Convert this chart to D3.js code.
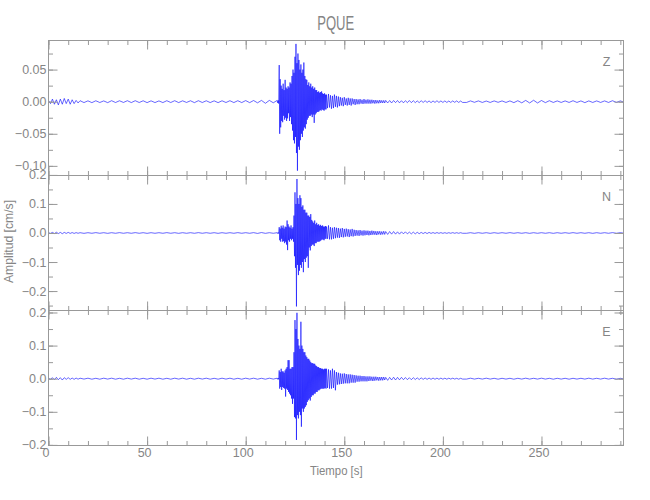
<!DOCTYPE html>
<html><head><meta charset="utf-8">
<script src="https://cdn.jsdelivr.net/npm/d3@7"></script>
<style>body{margin:0;background:#fff}svg{display:block}</style>
</head><body><svg id="c" width="650" height="500"></svg>
<script>
// ---- time layout of the sample blocks (seconds) ----
const blockStart = [0, 16, 116, 141, 171, 212];
const blockStep  = [1, 2, 0.25, 0.5, 1, 2];

// ---- Z component (cm/s) ----
const zEarly = [0.002,-0.003,0.004,-0.004,0.003,-0.005,0.004,-0.004,0.005,-0.003,0.004,-0.004,0.003,-0.003,0.002,-0.002];
const zQuiet = [0.0015,-0.0014,0.0013,-0.0015,0.0014,-0.0013,0.0012,-0.0015,0.0015,-0.0013,
  0.0014,-0.0012,0.0015,-0.0014,0.0015,-0.0013,0.0014,-0.0015,0.0013,-0.0014,
  0.0012,-0.0014,0.0015,-0.0013,0.0015,-0.0014,0.0013,-0.0012,0.0014,-0.0015,
  0.0015,-0.0013,0.0014,-0.0014,0.0013,-0.0015,0.0014,-0.0013,0.0015,-0.0014,
  0.0015,-0.0014,0.0017,-0.0015,0.0018,-0.0018,0.002,-0.0025,0.002,-0.0017];
const zEvent = [0.002,-0.002,0.002,-0.003, 0.057,-0.050,0.035,-0.040, 0.025,-0.030,0.020,-0.032,
  0.028,-0.022,0.018,-0.028, 0.034,-0.025,0.022,-0.030, 0.020,-0.026,0.024,-0.018,
  0.022,-0.030,0.030,-0.024, 0.028,-0.035,0.040,-0.045, 0.050,-0.060,0.045,-0.065,
  0.070,-0.055,0.090,-0.080, 0.060,-0.1075,0.075,-0.070, 0.065,-0.075,0.050,-0.060,
  0.058,-0.050,0.045,-0.055, 0.050,-0.045,0.061,-0.040, 0.040,-0.042,0.035,-0.035,
  0.034,-0.028,0.026,-0.025, 0.030,-0.022,0.024,-0.022, 0.028,-0.020,0.022,-0.024,
  0.024,-0.020,0.020,-0.033, 0.022,-0.020,0.018,-0.018, 0.018,-0.016,0.015,-0.016,
  0.016,-0.015,0.014,-0.013, 0.015,-0.014,0.016,-0.012, 0.013,-0.013,0.012,-0.014,
  0.013,-0.012,0.011,-0.012];
const zCoda = [0.011,-0.010,0.012,-0.009,0.010,-0.011,0.009,-0.010,0.011,-0.008,0.009,-0.009,0.008,-0.007,
  0.007,-0.006,0.006,-0.007,0.007,-0.005,0.005,-0.006,0.006,-0.005,0.005,-0.006,0.005,-0.004,0.004,-0.005,
  0.004,-0.004,0.0035,-0.004,0.004,-0.003,0.003,-0.0035,0.004,-0.003,0.003,-0.003,0.0035,-0.003,0.003,-0.003,0.003,-0.0025,
  0.0025,-0.003,0.0025,-0.0025,0.002,-0.0025,0.0025,-0.002,0.002,-0.002,0.002,-0.002];
const zLate = [0.002,-0.002,0.0018,-0.002,0.0018,-0.0015,0.0018,-0.0018,0.0015,-0.0018,
  0.0015,-0.0015,0.0018,-0.0015,0.0015,-0.0015,0.0012,-0.0015,0.0015,-0.0012,
  0.0015,-0.0012,0.0012,-0.0015,0.0012,-0.0012,0.0015,-0.0012,0.0012,-0.0012,
  0.0012,-0.0012,0.001,-0.0012,0.0012,-0.001,0.0012,-0.0012,0.001,-0.0012];
const zEnd = [-0.0012,0.0012,-0.001,0.0012,-0.0012,0.001,-0.0012,0.0012,-0.001,0.0012,
  -0.0012,0.0012,-0.0015,0.0015,-0.0018,0.002,-0.002,0.0022,-0.002,0.0018,
  -0.0015,0.0015,-0.0012,0.0012,-0.0012,0.0012,-0.0012,0.0015,-0.0012,0.0012,
  -0.0015,0.0012,-0.0012,0.0012,-0.0012,0.0012,-0.0012,0.0015,-0.0012,0.0012,-0.001];

// ---- N component (cm/s) ----
const nEarly = [0.001,-0.0015,0.002,-0.002,0.0025,-0.002,0.002,-0.0025,0.002,-0.0015,0.002,-0.0015,0.0015,-0.0015,0.0012,-0.001];
const nQuiet = [0.001,-0.0012,0.001,-0.001,0.0012,-0.001,0.001,-0.0012,0.001,-0.001,
  0.0012,-0.001,0.001,-0.001,0.0012,-0.001,0.001,-0.0012,0.001,-0.001,
  0.001,-0.001,0.0012,-0.001,0.001,-0.0012,0.001,-0.001,0.001,-0.001,
  0.0012,-0.001,0.001,-0.001,0.001,-0.0012,0.001,-0.001,0.001,-0.001,
  0.0012,-0.001,0.001,-0.001,0.0012,-0.0015,0.0015,-0.0012,0.001,-0.001];
const nEvent = [0.001,-0.002,0.002,-0.002, 0.020,-0.025,0.015,-0.030, 0.025,-0.020,0.018,-0.030,
  0.026,-0.028,0.015,-0.035, 0.022,-0.030,0.020,-0.040, 0.043,-0.059,0.030,-0.025,
  0.022,-0.030,0.018,-0.020, 0.026,-0.025,0.015,-0.020, 0.020,-0.030,0.060,-0.080,
  0.140,-0.120,0.100,-0.253, 0.186,-0.110,0.120,-0.145, 0.100,-0.130,0.130,-0.110,
  0.120,-0.120,0.090,-0.100, 0.095,-0.135,0.080,-0.090, 0.080,-0.100,0.070,-0.085,
  0.070,-0.080,0.060,-0.120, 0.060,-0.050,0.055,-0.060, 0.065,-0.045,0.045,-0.040,
  0.040,-0.040,0.035,-0.045, 0.043,-0.035,0.030,-0.035, 0.035,-0.030,0.028,-0.030,
  0.030,-0.030,0.025,-0.028, 0.028,-0.025,0.024,-0.022, 0.026,-0.023,0.022,-0.025,
  0.022,-0.020,0.024,-0.020];
const nCoda = [0.022,-0.020,0.026,-0.022,0.020,-0.022,0.018,-0.020,0.020,-0.018,
  0.018,-0.016,0.017,-0.017,0.015,-0.014,0.017,-0.015,0.014,-0.013,0.015,-0.012,0.013,-0.014,0.012,-0.011,0.014,-0.012,0.011,-0.010,
  0.010,-0.009,0.009,-0.010,0.010,-0.008,0.008,-0.009,0.009,-0.008,0.008,-0.007,0.008,-0.008,0.007,-0.007,0.008,-0.006,
  0.007,-0.006,0.006,-0.007,0.006,-0.005,0.006,-0.006,0.005,-0.005,0.006,-0.005];
const nLate = [0.005,-0.005,0.005,-0.004,0.005,-0.004,0.004,-0.004,0.004,-0.003,
  0.004,-0.003,0.003,-0.003,0.003,-0.003,0.0025,-0.0025,0.002,-0.002,
  0.002,-0.002,0.002,-0.0015,0.0015,-0.0015,0.0015,-0.0012,0.0012,-0.0012,
  0.001,-0.0012,0.001,-0.001,0.0012,-0.001,0.001,-0.001,0.001,-0.001];
const nEnd = [-0.001,0.001,-0.0012,0.001,-0.001,0.001,-0.0012,0.001,-0.001,0.001,
  -0.001,0.0012,-0.001,0.001,-0.001,0.001,-0.0012,0.001,-0.001,0.001,
  -0.001,0.001,-0.0012,0.001,-0.001,0.001,-0.001,0.0012,-0.001,0.001,
  -0.001,0.001,-0.0012,0.001,-0.001,0.001,-0.001,0.0012,-0.001,0.001,-0.001];

// ---- E component (cm/s) ----
const eEarly = [0.001,-0.002,0.003,-0.003,0.004,-0.003,0.003,-0.004,0.003,-0.002,0.003,-0.002,0.002,-0.002,0.002,-0.0015];
const eQuiet = [0.0015,-0.0012,0.0015,-0.0015,0.0012,-0.0015,0.0015,-0.0012,0.0015,-0.0015,
  0.0012,-0.0015,0.0015,-0.0012,0.0015,-0.0015,0.0012,-0.0015,0.0015,-0.0012,
  0.0015,-0.0015,0.0012,-0.0015,0.0015,-0.0012,0.0015,-0.0015,0.0012,-0.0015,
  0.0015,-0.0012,0.0015,-0.0015,0.0012,-0.0015,0.0015,-0.0012,0.0015,-0.0015,
  0.0012,-0.0015,0.0015,-0.0012,0.0015,-0.0015,0.0012,-0.0015,0.0015,-0.0012];
const eEvent = [0.0015,-0.002,0.002,-0.002, 0.025,-0.030,0.020,-0.025, 0.030,-0.034,0.022,-0.025,
  0.022,-0.028,0.018,-0.030, 0.025,-0.054,0.030,-0.030, 0.035,-0.034,0.056,-0.040,
  0.056,-0.045,0.030,-0.050, 0.030,-0.060,0.035,-0.076, 0.035,-0.060,0.080,-0.116,
  0.177,-0.120,0.150,-0.185, 0.199,-0.110,0.120,-0.120, 0.100,-0.100,0.090,-0.110,
  0.172,-0.145,0.100,-0.090, 0.090,-0.100,0.080,-0.090, 0.080,-0.085,0.070,-0.080,
  0.065,-0.070,0.060,-0.065, 0.060,-0.060,0.055,-0.066, 0.050,-0.055,0.047,-0.050,
  0.047,-0.050,0.045,-0.045, 0.045,-0.045,0.040,-0.040, 0.038,-0.040,0.035,-0.035,
  0.035,-0.035,0.032,-0.032, 0.032,-0.030,0.030,-0.030, 0.030,-0.030,0.028,-0.030,
  0.030,-0.028,0.030,-0.030];
const eCoda = [0.030,-0.028,0.028,-0.030,0.025,-0.030,0.030,-0.028,0.025,-0.035,
  0.020,-0.018,0.018,-0.017,0.016,-0.016,0.015,-0.015,0.016,-0.014,0.014,-0.014,0.013,-0.014,0.013,-0.012,0.012,-0.012,0.011,-0.012,
  0.010,-0.009,0.009,-0.009,0.009,-0.008,0.008,-0.008,0.008,-0.008,0.007,-0.008,0.007,-0.007,0.007,-0.006,0.006,-0.007,
  0.006,-0.006,0.006,-0.005,0.005,-0.006,0.005,-0.005,0.005,-0.005,0.005,-0.004];
const eLate = [0.004,-0.005,0.004,-0.004,0.0045,-0.004,0.004,-0.0035,0.004,-0.003,
  0.0035,-0.003,0.003,-0.003,0.003,-0.0025,0.0025,-0.0025,0.0025,-0.002,
  0.0022,-0.002,0.002,-0.002,0.002,-0.0018,0.0018,-0.0018,0.0018,-0.0015,
  0.0015,-0.0015,0.0015,-0.0012,0.0015,-0.0012,0.0012,-0.0015,0.0012,-0.0012];
const eEnd = [-0.0012,0.0015,-0.0012,0.0012,-0.0012,0.0015,-0.0012,0.0012,-0.0015,0.0012,
  -0.0012,0.0012,-0.0015,0.0012,-0.0012,0.0015,-0.0012,0.0012,-0.0012,0.0015,
  -0.0012,0.0012,-0.0015,0.0012,-0.0012,0.0012,-0.0015,0.0012,-0.0012,0.0012,
  -0.0012,0.0015,-0.0012,0.0012,-0.0012,0.0015,-0.0012,0.0012,-0.0015,0.0012,-0.0012];

// ---- labels / ticks ----
const components = ["Z", "N", "E"];
const xTickValues = [0, 50, 100, 150, 200, 250];
const xTickLabels = ["0", "50", "100", "150", "200", "250"];
const zTickValues = [-0.10, -0.05, 0.00, 0.05];
const zTickLabels = ["\u22120.10", "\u22120.05", "0.00", "0.05"];
const nTickValues = [-0.2, -0.1, 0.0, 0.1, 0.2];
const nTickLabels = ["\u22120.2", "\u22120.1", "0.0", "0.1", "0.2"];
const eTickValues = [-0.2, -0.1, 0.0, 0.1, 0.2];
const eTickLabels = ["\u22120.2", "\u22120.1", "0.0", "0.1", "0.2"];
const titleText = "PQUE";
const xTitle = "Tiempo [s]";
const yTitle = "Amplitud [cm/s]";

// ---- layout ----
const L = 48.5, R = 623.5, panelTop = [40.5, 175.5, 310.5], panelH = 135;
const gray = "#999", textGray = "#858585";
const font = "'Liberation Sans Narrow', 'Liberation Sans', sans-serif";

const panels = [
  {name: components[0], blocks: [zEarly, zQuiet, zEvent, zCoda, zLate, zEnd], domain: [-0.115, 0.0953],
   ticks: zTickValues, labels: zTickLabels, minorStep: 0.025},
  {name: components[1], blocks: [nEarly, nQuiet, nEvent, nCoda, nLate, nEnd], domain: [-0.267, 0.198],
   ticks: nTickValues, labels: nTickLabels, minorStep: 0.05},
  {name: components[2], blocks: [eEarly, eQuiet, eEvent, eCoda, eLate, eEnd], domain: [-0.2018, 0.206],
   ticks: eTickValues, labels: eTickLabels, minorStep: 0.05}
];

const svg = d3.select("#c");
svg.append("rect").attr("width", 650).attr("height", 500).attr("fill", "#fff");
const x = d3.scaleLinear().domain([0, 291.6]).range([L, R]);
const xMinor = d3.range(0, 291, 10);

function styleAxis(g) {
  g.select(".domain").remove();
  g.selectAll(".tick line").attr("stroke", gray).attr("stroke-width", 1);
  g.selectAll(".tick text").attr("fill", textGray).attr("font-family", font).attr("font-size", 12.5);
}

panels.forEach((p, i) => {
  const top = panelTop[i], bot = top + panelH;
  const y = d3.scaleLinear().domain(p.domain).range([bot, top]);
  const g = svg.append("g");

  const cid = "clip" + i;
  svg.append("clipPath").attr("id", cid).append("rect")
    .attr("x", L).attr("y", top).attr("width", R - L).attr("height", panelH);

  // trace
  const pts = [];
  p.blocks.forEach((arr, k) => arr.forEach((v, j) => pts.push([blockStart[k] + j * blockStep[k], v])));
  g.append("path").datum(pts)
    .attr("clip-path", `url(#${cid})`)
    .attr("d", d3.line().x(d => x(d[0])).y(d => y(d[1])))
    .attr("fill", "none").attr("stroke", "#0000ff").attr("stroke-width", 0.8)
    .attr("stroke-opacity", 0.75).attr("stroke-linejoin", "round");

  // frame
  g.append("rect").attr("x", L).attr("y", top).attr("width", R - L).attr("height", panelH)
    .attr("fill", "none").attr("stroke", gray).attr("stroke-width", 1);

  // y axes
  const yMinor = d3.range(Math.ceil(p.domain[0] / p.minorStep) * p.minorStep, p.domain[1] + 1e-9, p.minorStep);
  g.append("g").attr("transform", `translate(${L},0)`)
    .call(d3.axisLeft(y).tickValues(p.ticks).tickSize(-9).tickSizeOuter(0).tickPadding(2)
      .tickFormat((d, k) => p.labels[k])).call(styleAxis);
  g.append("g").attr("transform", `translate(${L},0)`)
    .call(d3.axisLeft(y).tickValues(yMinor).tickSize(-4.5).tickSizeOuter(0).tickFormat("")).call(styleAxis);
  g.append("g").attr("transform", `translate(${R},0)`)
    .call(d3.axisRight(y).tickValues(p.ticks.filter(v => v <= p.domain[1] && v >= p.domain[0]))
      .tickSize(-9).tickSizeOuter(0).tickFormat("")).call(styleAxis);
  g.append("g").attr("transform", `translate(${R},0)`)
    .call(d3.axisRight(y).tickValues(yMinor).tickSize(-4.5).tickSizeOuter(0).tickFormat("")).call(styleAxis);

  // x axes (top & bottom of each panel)
  g.append("g").attr("transform", `translate(0,${top})`)
    .call(d3.axisTop(x).tickValues(xTickValues).tickSize(-9).tickSizeOuter(0).tickFormat("")).call(styleAxis);
  g.append("g").attr("transform", `translate(0,${top})`)
    .call(d3.axisTop(x).tickValues(xMinor).tickSize(-4.5).tickSizeOuter(0).tickFormat("")).call(styleAxis);
  const bAx = g.append("g").attr("transform", `translate(0,${bot})`)
    .call(d3.axisBottom(x).tickValues(xTickValues).tickSize(-9).tickSizeOuter(0).tickPadding(3)
      .tickFormat((d, k) => i === 2 ? xTickLabels[k] : "")).call(styleAxis);
  bAx.selectAll(".tick text").attr("dx", -3);
  g.append("g").attr("transform", `translate(0,${bot})`)
    .call(d3.axisBottom(x).tickValues(xMinor).tickSize(-4.5).tickSizeOuter(0).tickFormat("")).call(styleAxis);

  // component label
  g.append("text").attr("x", 606.5).attr("y", top + 25.4).attr("text-anchor", "middle")
    .attr("font-family", font).attr("font-size", 12.5).attr("fill", textGray).text(p.name);
});

// titles
svg.append("text").attr("x", 335.7).attr("y", 29.5).attr("text-anchor", "middle")
  .attr("font-family", font).attr("font-size", 21).attr("fill", textGray)
  .attr("textLength", 37).attr("lengthAdjust", "spacingAndGlyphs").text(titleText);
svg.append("text").attr("x", 336.3).attr("y", 475.3).attr("text-anchor", "middle")
  .attr("font-family", font).attr("font-size", 12.5).attr("fill", textGray)
  .attr("textLength", 52.7).attr("lengthAdjust", "spacingAndGlyphs").text(xTitle);
svg.append("text").attr("transform", "translate(13,241.5) rotate(-90)").attr("text-anchor", "middle")
  .attr("font-family", font).attr("font-size", 12.5).attr("fill", textGray)
  .attr("textLength", 83).attr("lengthAdjust", "spacingAndGlyphs").text(yTitle);
</script></body></html>
